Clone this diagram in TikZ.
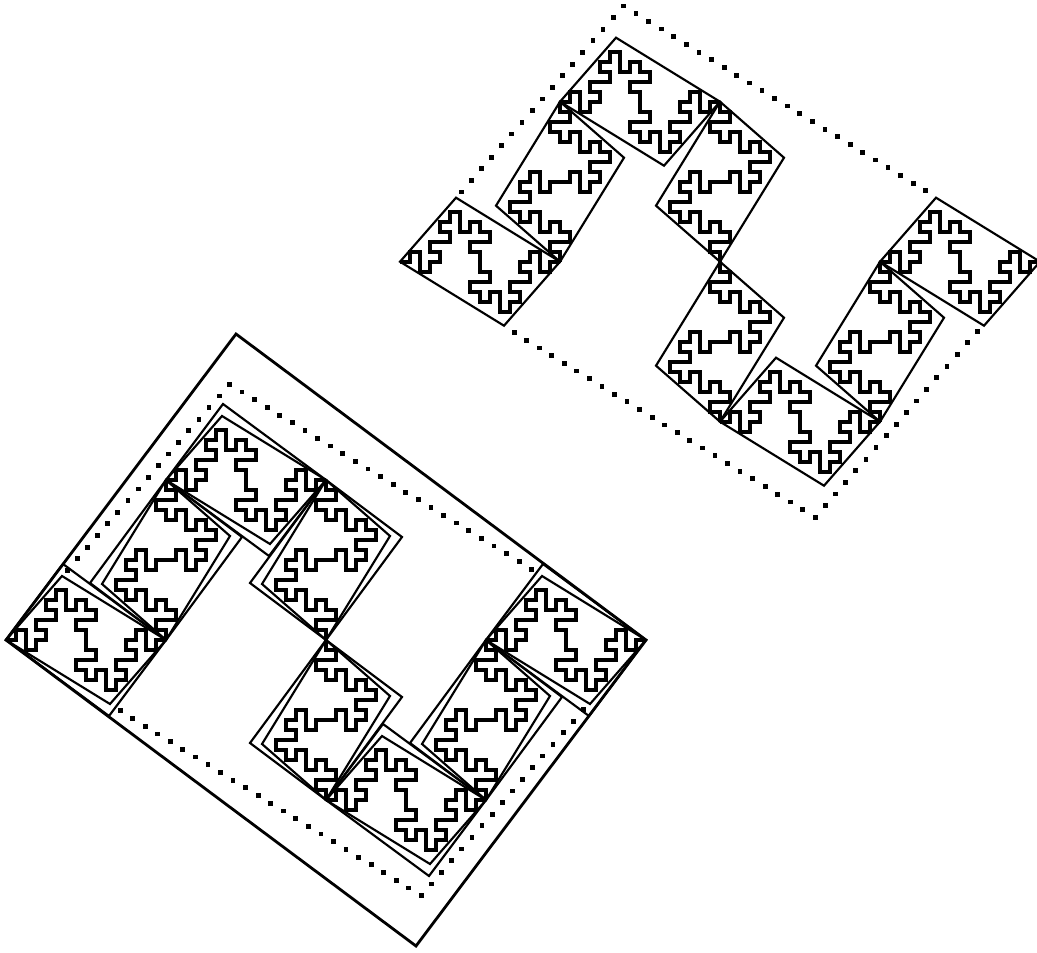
\documentclass[tikz,border=0pt]{standalone}
\usepackage{tikz}
\definecolor{inkline}{HTML}{000000}
\tikzset{
  curveline/.style={draw=inkline, line width=3pt, miter limit=4},
  boxline/.style={draw=inkline, line width=1.6pt},
  hullline/.style={draw=inkline, line width=2.1pt},
  dotmark/.style={fill=inkline}
}
\newcommand{\halfcurve}{%
  \draw[curveline] (0,0) -- (0,1) -- (-1,1) -- (-1,2) -- (1,2) -- (1,3) -- (0,3) -- (0,4)
    -- (-1,4) -- (-1,3) -- (-2,3) -- (-2,5) -- (-3,5) -- (-3,4) -- (-4,4) -- (-4,3)
    -- (-3,3) -- (-3,2) -- (-5,2) -- (-5,1) -- (-4,1) -- (-4,0) -- (-5,0) -- (-5,-1)
    -- (-6,-1) -- (-6,1) -- (-7,1) -- (-7,0) -- (-8,0);}
% one piece of the curve with its inner frame
\newcommand{\piece}[3]{%
  \begin{scope}[shift={(#1,#2)}, rotate=#3]
    \halfcurve
    \begin{scope}[rotate=180]\halfcurve\end{scope}
    \draw[boxline] (-8,0) -- (-2.4,6.4) -- (8,0) -- (2.4,-6.4) -- cycle;
  \end{scope}}
\newcommand{\bigpiece}[3]{%
  \begin{scope}[shift={(#1,#2)}, rotate=#3]
    \draw[boxline] (-8,0) -- (-2.3,7.6) -- (8,0) -- (2.3,-7.6) -- cycle;
  \end{scope}}
\newcommand{\dotrun}[6]{%
  \foreach \i in {#5,...,#6}
    \fill[dotmark] ({#1+\i*#3-0.24},{#2+\i*#4-0.24}) rectangle ++(0.48,0.48);}
\newcommand{\wholefig}[2]{%
  \begin{scope}[shift={(#1,#2)}, x=7.5pt, y=7.5pt]
    \foreach \cx/\cy/\ang in {-24/0/0, -16/8/-90, -8/16/0, 0/8/-90, 0/-8/-90, 8/-16/0, 16/-8/-90, 24/0/0}
      \piece{\cx}{\cy}{\ang};
    \dotrun{-9.67}{25.57}{-1.013}{-1.163}{0}{16}
    \dotrun{-9.67}{25.57}{1.26}{-0.77}{1}{24}
    \dotrun{9.53}{-25.56}{-1.255}{0.77}{0}{24}
    \dotrun{9.53}{-25.56}{1.013}{1.163}{1}{16}
  \end{scope}}
\begin{document}
\begin{tikzpicture}[x=0.75pt, y=-0.75pt]
  \useasboundingbox (0,0) rectangle (1037,952);
  \wholefig{720}{261.7}
  \wholefig{326}{640}
  % second frames and the hull of the lower figure
  \begin{scope}[shift={(326,640)}, x=7.5pt, y=7.5pt]
    \foreach \cx/\cy/\ang in {-24/0/0, -16/8/-90, -8/16/0, 0/8/-90, 0/-8/-90, 8/-16/0, 16/-8/-90, 24/0/0}
      \bigpiece{\cx}{\cy}{\ang};
    \draw[hullline] (-32,0) -- (-9,30.6) -- (32,0) -- (9,-30.6) -- cycle;
  \end{scope}
\end{tikzpicture}
\end{document}
